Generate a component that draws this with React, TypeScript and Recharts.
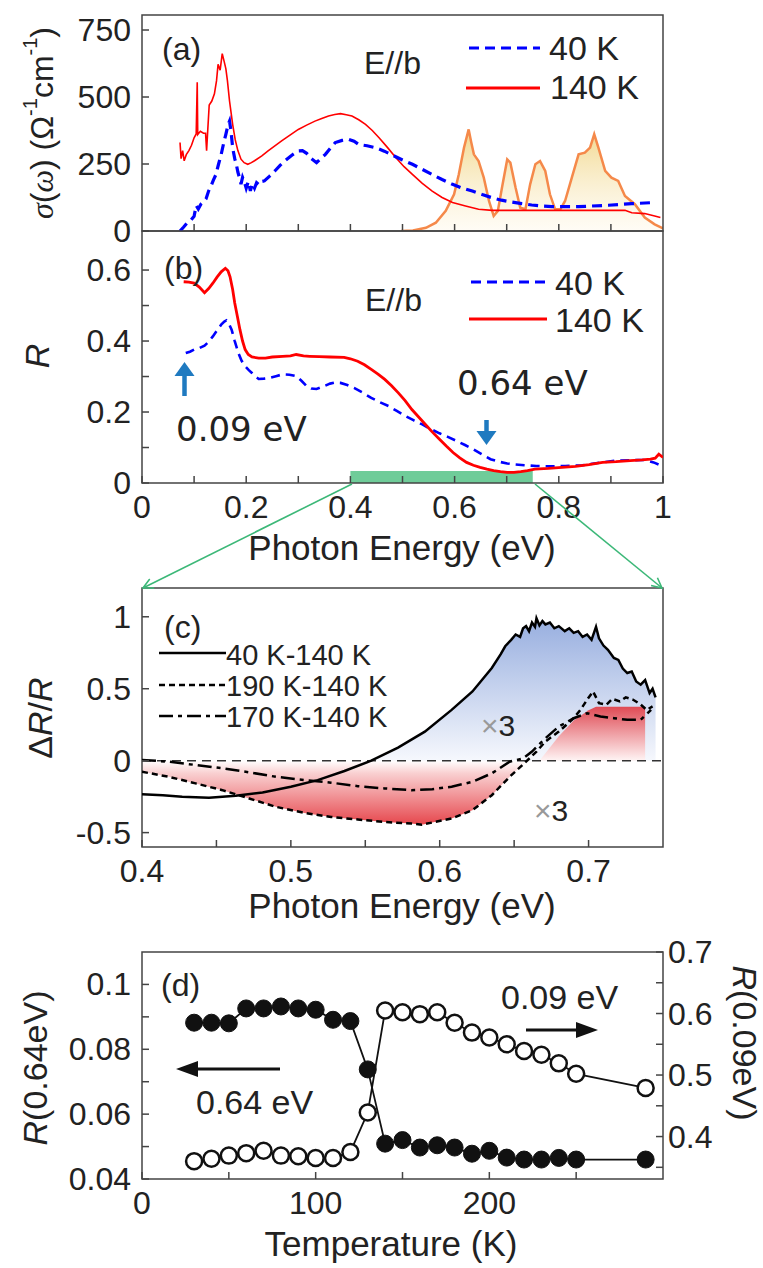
import React from "react";
import { ComposedChart, Line, Area, XAxis, YAxis, ReferenceArea, ReferenceLine } from "recharts";

type Pt = [number, number];

const FONT = '"Liberation Sans", Arial, sans-serif';
const INK = "#222";
const FRAME = "#444";

// (a) optical conductivity, E//b
const sigma140K: Pt[] = [
  [0.073, 330], [0.075, 270], [0.078, 300], [0.081, 262], [0.085, 285], [0.09, 300], [0.095, 320],
  [0.1, 348], [0.104, 362], [0.106, 555], [0.107, 360], [0.112, 372], [0.118, 365], [0.122, 365],
  [0.124, 300], [0.126, 370], [0.129, 470], [0.134, 485], [0.139, 512], [0.143, 560], [0.146, 622],
  [0.15, 600], [0.154, 662], [0.158, 630], [0.161, 605], [0.164, 560], [0.168, 485], [0.174, 398],
  [0.179, 340], [0.184, 300], [0.19, 268], [0.196, 255], [0.203, 249], [0.21, 255], [0.216, 262],
  [0.23, 280], [0.242, 299], [0.255, 318], [0.268, 336], [0.284, 358], [0.3, 379], [0.316, 395],
  [0.332, 410], [0.345, 420], [0.358, 429], [0.37, 435], [0.381, 438], [0.392, 434], [0.403, 429],
  [0.416, 415], [0.429, 398], [0.442, 375], [0.455, 348], [0.471, 312], [0.487, 274], [0.503, 240],
  [0.519, 211], [0.538, 178], [0.557, 149], [0.576, 125], [0.596, 106], [0.621, 93], [0.646, 81],
  [0.672, 77], [0.75, 77], [0.85, 77], [0.927, 77], [0.94, 68], [0.965, 65], [0.984, 56], [0.995, 50],
];
const sigma40K: Pt[] = [
  [0.073, 0], [0.08, 15], [0.087, 31], [0.093, 38], [0.1, 55], [0.104, 95], [0.108, 82], [0.113, 100],
  [0.118, 108], [0.123, 120], [0.128, 150], [0.132, 165], [0.137, 190], [0.142, 211], [0.147, 250],
  [0.152, 286], [0.157, 330], [0.161, 361], [0.165, 395], [0.168, 410], [0.171, 370], [0.174, 311],
  [0.178, 270], [0.181, 249], [0.184, 220], [0.187, 199], [0.19, 175], [0.193, 200], [0.197, 180],
  [0.2, 160], [0.204, 185], [0.208, 150], [0.212, 178], [0.216, 160], [0.22, 180], [0.225, 172],
  [0.23, 185], [0.235, 187], [0.245, 205], [0.255, 224], [0.265, 245], [0.274, 261], [0.287, 282],
  [0.3, 299], [0.308, 300], [0.316, 290], [0.325, 270], [0.335, 255], [0.343, 270], [0.352, 286],
  [0.362, 310], [0.371, 330], [0.384, 338], [0.397, 342], [0.407, 335], [0.416, 323], [0.432, 318],
  [0.448, 311], [0.465, 298], [0.481, 283], [0.5, 265], [0.519, 249], [0.538, 230], [0.557, 211],
  [0.576, 192], [0.596, 174], [0.615, 160], [0.634, 149], [0.653, 136], [0.672, 124], [0.69, 115],
  [0.71, 108], [0.729, 102], [0.748, 97], [0.767, 93], [0.787, 91], [0.838, 91], [0.895, 96],
  [0.94, 102], [0.981, 106],
];
const pumpSpectrum: Pt[] = [
  [0.497, 0], [0.52, 2], [0.545, 12], [0.564, 31], [0.583, 75], [0.599, 137], [0.608, 211],
  [0.618, 311], [0.627, 379], [0.632, 330], [0.637, 286], [0.646, 261], [0.656, 199], [0.666, 112],
  [0.675, 56], [0.683, 75], [0.691, 162], [0.701, 267], [0.707, 255], [0.717, 162], [0.726, 87],
  [0.736, 81], [0.745, 174], [0.755, 249], [0.764, 261], [0.774, 224], [0.783, 137], [0.793, 81],
  [0.803, 81], [0.812, 112], [0.825, 199], [0.838, 286], [0.85, 292], [0.86, 311], [0.868, 361],
  [0.876, 311], [0.889, 224], [0.901, 199], [0.914, 187], [0.927, 131], [0.946, 100], [0.965, 50],
  [0.984, 25], [1.0, 10],
];
const aTicksX = [0.1, 0.2, 0.3, 0.4, 0.5, 0.6, 0.7, 0.8, 0.9];
const aTicksY = [0, 250, 500, 750];
const aLabelsY = ["0", "250", "500", "750"];

// (b) reflectivity
const refl140K: Pt[] = [
  [0.08, 0.567], [0.09, 0.566], [0.1, 0.563], [0.11, 0.552], [0.12, 0.536], [0.128, 0.548],
  [0.136, 0.563], [0.144, 0.58], [0.152, 0.595], [0.16, 0.605], [0.165, 0.598], [0.169, 0.581],
  [0.174, 0.545], [0.178, 0.507], [0.183, 0.47], [0.188, 0.432], [0.193, 0.4], [0.198, 0.376],
  [0.204, 0.362], [0.211, 0.355], [0.224, 0.352], [0.237, 0.352], [0.25, 0.355], [0.27, 0.357],
  [0.285, 0.358], [0.296, 0.362], [0.31, 0.358], [0.322, 0.357], [0.34, 0.356], [0.361, 0.355],
  [0.388, 0.354], [0.4, 0.35], [0.414, 0.343], [0.427, 0.333], [0.44, 0.32], [0.453, 0.307],
  [0.466, 0.292], [0.479, 0.274], [0.492, 0.254], [0.505, 0.232], [0.518, 0.207], [0.531, 0.186],
  [0.544, 0.165], [0.557, 0.144], [0.571, 0.123], [0.584, 0.104], [0.597, 0.086], [0.61, 0.071],
  [0.623, 0.058], [0.636, 0.05], [0.649, 0.044], [0.662, 0.039], [0.675, 0.035], [0.688, 0.032],
  [0.701, 0.03], [0.714, 0.03], [0.727, 0.032], [0.74, 0.035], [0.754, 0.039], [0.78, 0.041],
  [0.806, 0.044], [0.832, 0.047], [0.858, 0.052], [0.884, 0.058], [0.91, 0.06], [0.937, 0.063],
  [0.96, 0.065], [0.976, 0.067], [0.985, 0.07], [0.992, 0.081], [1.0, 0.072],
];
const refl40K: Pt[] = [
  [0.084, 0.366], [0.092, 0.37], [0.1, 0.376], [0.11, 0.38], [0.12, 0.387], [0.128, 0.398],
  [0.136, 0.413], [0.144, 0.43], [0.152, 0.446], [0.158, 0.455], [0.162, 0.458], [0.167, 0.448],
  [0.172, 0.432], [0.178, 0.4], [0.185, 0.366], [0.191, 0.345], [0.198, 0.329], [0.205, 0.318],
  [0.211, 0.31], [0.218, 0.3], [0.224, 0.293], [0.234, 0.294], [0.244, 0.296], [0.257, 0.301],
  [0.27, 0.306], [0.283, 0.305], [0.296, 0.301], [0.306, 0.288], [0.316, 0.273], [0.325, 0.266],
  [0.335, 0.265], [0.348, 0.272], [0.361, 0.28], [0.371, 0.283], [0.381, 0.282], [0.394, 0.276],
  [0.407, 0.268], [0.423, 0.255], [0.44, 0.24], [0.456, 0.228], [0.473, 0.217], [0.489, 0.203],
  [0.505, 0.189], [0.521, 0.177], [0.538, 0.165], [0.554, 0.152], [0.571, 0.14], [0.587, 0.13],
  [0.603, 0.119], [0.62, 0.107], [0.636, 0.095], [0.652, 0.081], [0.669, 0.067], [0.685, 0.06],
  [0.701, 0.055], [0.717, 0.052], [0.734, 0.05], [0.757, 0.048], [0.78, 0.047], [0.812, 0.048],
  [0.845, 0.05], [0.878, 0.057], [0.91, 0.063], [0.937, 0.064], [0.963, 0.065], [0.982, 0.058],
  [1.0, 0.047],
];
const bTicksX = [0, 0.1, 0.2, 0.3, 0.4, 0.5, 0.6, 0.7, 0.8, 0.9, 1];
const bLabelsX = ["0", "", "0.2", "", "0.4", "", "0.6", "", "0.8", "", "1"];
const bTicksY = [0, 0.1, 0.2, 0.3, 0.4, 0.5, 0.6];
const bLabelsY = ["0", "", "0.2", "", "0.4", "", "0.6"];
const probeWindow = [0.4, 0.75];

// (c) differential reflectivity
const dR40: Pt[] = [
  [0.4, -0.233], [0.414, -0.24], [0.427, -0.251], [0.445, -0.258], [0.463, -0.244], [0.481, -0.221],
  [0.5, -0.181], [0.518, -0.135], [0.536, -0.072], [0.554, 0], [0.572, 0.091], [0.59, 0.202],
  [0.608, 0.353], [0.622, 0.481], [0.635, 0.644], [0.641, 0.74], [0.644, 0.795], [0.648, 0.84],
  [0.651, 0.877], [0.654, 0.86], [0.656, 0.92], [0.658, 0.935], [0.66, 0.9], [0.662, 0.96],
  [0.664, 0.93], [0.665, 0.99], [0.667, 0.94], [0.669, 0.97], [0.671, 0.947], [0.674, 0.96],
  [0.677, 0.92], [0.68, 0.935], [0.684, 0.9], [0.687, 0.92], [0.69, 0.888], [0.693, 0.9],
  [0.696, 0.86], [0.699, 0.877], [0.702, 0.84], [0.705, 0.93], [0.707, 0.85], [0.71, 0.8],
  [0.713, 0.77], [0.717, 0.714], [0.72, 0.7], [0.723, 0.64], [0.726, 0.609], [0.729, 0.62],
  [0.732, 0.55], [0.735, 0.528], [0.738, 0.56], [0.741, 0.47], [0.743, 0.5], [0.745, 0.44],
];
const dR190: Pt[] = [
  [0.4, -0.077], [0.418, -0.112], [0.436, -0.158], [0.454, -0.205], [0.472, -0.263], [0.49, -0.321],
  [0.509, -0.363], [0.527, -0.391], [0.545, -0.409], [0.563, -0.426], [0.581, -0.437], [0.588, -0.445],
  [0.595, -0.43], [0.608, -0.402], [0.622, -0.344], [0.635, -0.24], [0.647, -0.112], [0.658, -0.007],
  [0.665, 0.063], [0.671, 0.133], [0.68, 0.202], [0.69, 0.295], [0.695, 0.36], [0.699, 0.423],
  [0.703, 0.481], [0.707, 0.4], [0.712, 0.388], [0.716, 0.43], [0.721, 0.412], [0.725, 0.44],
  [0.73, 0.423], [0.735, 0.39], [0.739, 0.353], [0.743, 0.377],
];
const dR170: Pt[] = [
  [0.4, 0.005], [0.418, -0.007], [0.436, -0.03], [0.454, -0.053], [0.472, -0.081], [0.49, -0.112],
  [0.509, -0.135], [0.527, -0.153], [0.545, -0.177], [0.563, -0.193], [0.581, -0.205], [0.595, -0.198],
  [0.608, -0.181], [0.622, -0.147], [0.635, -0.088], [0.647, -0.007], [0.656, 0.016], [0.662, 0.063],
  [0.671, 0.156], [0.68, 0.237], [0.69, 0.295], [0.699, 0.33], [0.708, 0.307], [0.717, 0.295],
  [0.726, 0.284], [0.735, 0.284], [0.742, 0.353],
];
const dRposShade: Pt[] = [
  [0.667, 0], [0.68, 0.17], [0.69, 0.28], [0.7, 0.35], [0.705, 0.375], [0.72, 0.375], [0.738, 0.375],
];
const cTicksX = [0.4, 0.45, 0.5, 0.55, 0.6, 0.65, 0.7];
const cLabelsX = ["0.4", "", "0.5", "", "0.6", "", "0.7"];
const cTicksY = [-0.5, 0, 0.5, 1];
const cLabelsY = ["-0.5", "0", "0.5", "1"];

// (d) temperature dependence
const temps = [30, 40, 50, 60, 70, 80, 90, 100, 110, 120, 130, 140, 150, 160, 170, 180, 190, 200, 210, 220, 230, 240, 250, 290];
const r064 = [0.0882, 0.0882, 0.088, 0.0926, 0.0926, 0.0932, 0.0926, 0.0922, 0.0891, 0.0887, 0.0738, 0.0509,
  0.052, 0.0497, 0.0504, 0.0497, 0.0478, 0.0487, 0.0466, 0.046, 0.046, 0.0465, 0.046, 0.046];
const r009 = [0.36, 0.364, 0.369, 0.373, 0.377, 0.369, 0.368, 0.365, 0.365, 0.375, 0.439, 0.605,
  0.602, 0.599, 0.602, 0.585, 0.569, 0.561, 0.55, 0.539, 0.533, 0.519, 0.502, 0.479];
const dTicksX = [0, 50, 100, 150, 200, 250];
const dLabelsX = ["0", "", "100", "", "200", ""];
const dTicksL = [0.04, 0.05, 0.06, 0.07, 0.08, 0.09, 0.1];
const dLabelsL = ["0.04", "", "0.06", "", "0.08", "", "0.1"];
const dTicksR = [0.35, 0.4, 0.45, 0.5, 0.55, 0.6, 0.65, 0.7];
const dLabelsR = ["", "0.4", "", "0.5", "", "0.6", "", "0.7"];

function merge(series: Record<string, Pt[]>) {
  const rows = new Map<number, any>();
  Object.entries(series).forEach(([key, pts]) => {
    pts.forEach(([x, y]) => {
      const row = rows.get(x) || { x };
      row[key] = y;
      rows.set(x, row);
    });
  });
  return Array.from(rows.values()).sort((p, q) => p.x - q.x);
}

const aRows = merge({ s40: sigma40K, s140: sigma140K, pump: pumpSpectrum });
const bRows = merge({ r40: refl40K, r140: refl140K });
const cRows = merge({
  d40: dR40,
  d190: dR190,
  d170: dR170,
  pos40: dR40.filter(([, y]) => y >= 0),
  neg190: dR190.filter(([x, y]) => y <= 0 && x < 0.66),
  posShade: dRposShade,
});
const dRows = temps.map((t, i) => ({ t, r064: r064[i], r009: r009[i] }));

const tickText = { fontFamily: FONT, fontSize: 32, fill: INK };

const bottomTick = (ticks: number[], labels: string[]) => (p: any) => {
  const lab = labels[ticks.indexOf(p.payload.value)] || "";
  return (
    <g>
      <line x1={p.x} y1={p.y} x2={p.x} y2={p.y - 7} stroke={FRAME} strokeWidth={1.5} />
      {lab && <text x={p.x} y={p.y + 35} textAnchor="middle" {...tickText}>{lab}</text>}
    </g>
  );
};
const leftTick = (ticks: number[], labels: string[]) => (p: any) => {
  const lab = labels[ticks.indexOf(p.payload.value)] || "";
  return (
    <g>
      <line x1={p.x} y1={p.y} x2={p.x + 7} y2={p.y} stroke={FRAME} strokeWidth={1.5} />
      {lab && <text x={p.x - 11} y={p.y + 11} textAnchor="end" {...tickText}>{lab}</text>}
    </g>
  );
};
const rightTick = (ticks: number[], labels: string[]) => (p: any) => {
  const lab = labels[ticks.indexOf(p.payload.value)] || "";
  return (
    <g>
      <line x1={p.x} y1={p.y} x2={p.x - 7} y2={p.y} stroke={FRAME} strokeWidth={1.5} />
      {lab && <text x={p.x + 5} y={p.y + 11} textAnchor="start" {...tickText}>{lab}</text>}
    </g>
  );
};

// axes are 1px thick boxes so that recharts still draws their ticks
const axisBase = { tickSize: 0, tickMargin: 0, axisLine: false, tickLine: false, interval: 0 as const, allowDataOverflow: true };

const Panel = ({ top, height, children }: { top: number; height: number; children: React.ReactNode }) => (
  <div style={{ position: "absolute", left: 0, top, width: 763, height }}>{children}</div>
);

function ChartA() {
  return (
    <ComposedChart width={763} height={260} data={aRows} margin={{ top: 15, right: 100, bottom: 28, left: 141 }}>
      <defs>
        <linearGradient id="pumpFill" x1="0" y1="0" x2="0" y2="1">
          <stop offset="0" stopColor="#e6b52c" stopOpacity={0.9} />
          <stop offset="0.55" stopColor="#f3d98e" stopOpacity={0.65} />
          <stop offset="1" stopColor="#fff6e0" stopOpacity={0.5} />
        </linearGradient>
      </defs>
      <XAxis dataKey="x" type="number" domain={[0, 1]} ticks={aTicksX} height={1} tick={bottomTick(aTicksX, [])} {...axisBase} />
      <YAxis type="number" domain={[0, 806]} ticks={aTicksY} width={1} tick={leftTick(aTicksY, aLabelsY)} {...axisBase} />
      <Area dataKey="pump" type="linear" connectNulls stroke="#f5894a" strokeWidth={2.5} fill="url(#pumpFill)" baseValue={0} isAnimationActive={false} dot={false} />
      <Line dataKey="s140" type="linear" connectNulls stroke="#ff0000" strokeWidth={1.6} dot={false} isAnimationActive={false} />
      <Line dataKey="s40" type="linear" connectNulls stroke="#0000ff" strokeWidth={3.2} strokeDasharray="10 6" dot={false} isAnimationActive={false} />
      <ReferenceArea x1={0} x2={1} y1={0} y2={806} fill="none" stroke={FRAME} strokeWidth={1.5} ifOverflow="visible" />
    </ComposedChart>
  );
}

function ChartB() {
  return (
    <ComposedChart width={763} height={360} data={bRows} margin={{ top: 15, right: 100, bottom: 92, left: 141 }}>
      <XAxis dataKey="x" type="number" domain={[0, 1]} ticks={bTicksX} height={1} tick={bottomTick(bTicksX, bLabelsX)} {...axisBase} />
      <YAxis type="number" domain={[0, 0.71]} ticks={bTicksY} width={1} tick={leftTick(bTicksY, bLabelsY)} {...axisBase} />
      <ReferenceArea x1={probeWindow[0]} x2={probeWindow[1]} y1={0} y2={0.034} fill="#5fc68e" fillOpacity={0.9} stroke="none" ifOverflow="visible" />
      <Line dataKey="r40" type="linear" connectNulls stroke="#0000ff" strokeWidth={2.6} strokeDasharray="9 6" dot={false} isAnimationActive={false} />
      <Line dataKey="r140" type="linear" connectNulls stroke="#ff0000" strokeWidth={2.8} dot={false} isAnimationActive={false} />
      <ReferenceArea x1={0} x2={1} y1={0} y2={0.71} fill="none" stroke={FRAME} strokeWidth={1.5} ifOverflow="visible" />
    </ComposedChart>
  );
}

function ChartC() {
  return (
    <ComposedChart width={763} height={357} data={cRows} margin={{ top: 15, right: 100, bottom: 82, left: 141 }}>
      <defs>
        <linearGradient id="blueFill" x1="0" y1="0" x2="0" y2="1">
          <stop offset="0" stopColor="#97aedf" />
          <stop offset="1" stopColor="#f6f8fd" />
        </linearGradient>
        <linearGradient id="negFill" x1="0" y1="0" x2="0" y2="1">
          <stop offset="0" stopColor="#ffffff" />
          <stop offset="0.2" stopColor="#f9cfd0" />
          <stop offset="1" stopColor="#e6474d" />
        </linearGradient>
        <linearGradient id="posFill" x1="0" y1="0" x2="0" y2="1">
          <stop offset="0" stopColor="#df4a54" />
          <stop offset="1" stopColor="#fff4f4" />
        </linearGradient>
      </defs>
      <XAxis dataKey="x" type="number" domain={[0.4, 0.75]} ticks={cTicksX} height={1} tick={bottomTick(cTicksX, cLabelsX)} {...axisBase} />
      <YAxis type="number" domain={[-0.6, 1.2]} ticks={cTicksY} width={1} tick={leftTick(cTicksY, cLabelsY)} {...axisBase} />
      <Area dataKey="pos40" type="linear" connectNulls stroke="none" fill="url(#blueFill)" fillOpacity={1} baseValue={0} dot={false} isAnimationActive={false} />
      <Area dataKey="neg190" type="linear" connectNulls stroke="none" fill="url(#negFill)" fillOpacity={1} baseValue={0} dot={false} isAnimationActive={false} />
      <Area dataKey="posShade" type="linear" connectNulls stroke="none" fill="url(#posFill)" fillOpacity={1} baseValue={0} dot={false} isAnimationActive={false} />
      <ReferenceLine y={0} stroke="#333" strokeWidth={1.5} strokeDasharray="9 6" />
      <Line dataKey="d40" type="linear" connectNulls stroke="#000" strokeWidth={2.5} dot={false} isAnimationActive={false} />
      <Line dataKey="d190" type="linear" connectNulls stroke="#000" strokeWidth={2.5} strokeDasharray="6 4" dot={false} isAnimationActive={false} />
      <Line dataKey="d170" type="linear" connectNulls stroke="#000" strokeWidth={2.5} strokeDasharray="14 5 4 5" dot={false} isAnimationActive={false} />
      <ReferenceArea x1={0.4} x2={0.75} y1={-0.6} y2={1.2} fill="none" stroke={FRAME} strokeWidth={1.5} ifOverflow="visible" />
    </ComposedChart>
  );
}

function ChartD() {
  return (
    <ComposedChart width={763} height={348} data={dRows} margin={{ top: 32, right: 99, bottom: 88, left: 141 }}>
      <XAxis dataKey="t" type="number" domain={[0, 300]} ticks={dTicksX} height={1} tick={bottomTick(dTicksX, dLabelsX)} {...axisBase} />
      <YAxis yAxisId="l" type="number" domain={[0.04, 0.11]} ticks={dTicksL} width={1} tick={leftTick(dTicksL, dLabelsL)} {...axisBase} />
      <YAxis yAxisId="r" orientation="right" type="number" domain={[0.331, 0.7]} ticks={dTicksR} width={1} tick={rightTick(dTicksR, dLabelsR)} {...axisBase} />
      <Line yAxisId="l" dataKey="r064" type="linear" stroke="#111" strokeWidth={1.8} dot={{ r: 8.5, fill: "#111", stroke: "#111", strokeWidth: 1 }} isAnimationActive={false} />
      <Line yAxisId="r" dataKey="r009" type="linear" stroke="#111" strokeWidth={1.8} dot={{ r: 8, fill: "#fff", stroke: "#111", strokeWidth: 2.5 }} isAnimationActive={false} />
      <ReferenceArea yAxisId="l" x1={0} x2={300} y1={0.04} y2={0.11} fill="none" stroke={FRAME} strokeWidth={1.5} ifOverflow="visible" />
    </ComposedChart>
  );
}

const T = { fontFamily: FONT, fill: INK };
const ANN = { fontFamily: '"DejaVu Sans", sans-serif', fill: INK };

function VArrow({ x, from, to, color, shaft, head, half }: any) {
  const dir = Math.sign(to - from);
  const base = to - dir * head;
  return (
    <g>
      <line x1={x} y1={from} x2={x} y2={base} stroke={color} strokeWidth={shaft} />
      <polygon points={`${x - half},${base} ${x + half},${base} ${x},${to}`} fill={color} />
    </g>
  );
}
function HArrow({ y, from, to, color, shaft, head, half }: any) {
  const dir = Math.sign(to - from);
  const base = to - dir * head;
  return (
    <g>
      <line x1={from} y1={y} x2={base} y2={y} stroke={color} strokeWidth={shaft} />
      <polygon points={`${base},${y - half} ${base},${y + half} ${to},${y}`} fill={color} />
    </g>
  );
}

function Overlay() {
  const sup = (s: string) => (
    <tspan dy={-12} fontSize={20}>{s}</tspan>
  );
  return (
    <svg width={763} height={1268} style={{ position: "absolute", left: 0, top: 0, pointerEvents: "none" }}>
      <defs>
        <marker id="gArrow" viewBox="0 0 12 12" refX="11" refY="6" markerWidth="12" markerHeight="12" orient="auto" markerUnits="userSpaceOnUse">
          <path d="M1,1 L11,6 L1,11" fill="none" stroke="#3cb878" strokeWidth={1.6} />
        </marker>
      </defs>
      {/* zoom lines from (b) to (c) */}
      <line x1={352} y1={484} x2={143} y2={588} stroke="#3cb878" strokeWidth={1.6} markerEnd="url(#gArrow)" />
      <line x1={535} y1={484} x2={662} y2={588} stroke="#3cb878" strokeWidth={1.6} markerEnd="url(#gArrow)" />

      {/* (a) */}
      <text x={162} y={49} dominantBaseline="central" fontSize={32} {...T}>(a)</text>
      <text x={364} y={63} dominantBaseline="central" fontSize={32} {...T}>E//b</text>
      <line x1={469} y1={48} x2={540} y2={48} stroke="#0000ff" strokeWidth={3.2} strokeDasharray="10 6" />
      <text x={549} y={48} dominantBaseline="central" fontSize={34} {...T}>40 K</text>
      <line x1={466} y1={88} x2={540} y2={88} stroke="#ff0000" strokeWidth={3} />
      <text x={550} y={87} dominantBaseline="central" fontSize={34} {...T}>140 K</text>
      <text transform="translate(42,123) rotate(-90)" textAnchor="middle" dominantBaseline="central" fontSize={32} {...T}>
        <tspan fontFamily='"Liberation Serif", serif' fontStyle="italic">σ</tspan>(<tspan fontFamily='"Liberation Serif", serif' fontStyle="italic">ω</tspan>) (Ω{sup("-1")}<tspan dy={12}>cm</tspan>{sup("-1")}<tspan dy={12}>)</tspan>
      </text>

      {/* (b) */}
      <text x={164} y={268} dominantBaseline="central" fontSize={32} {...T}>(b)</text>
      <text x={365} y={300} dominantBaseline="central" fontSize={32} {...T}>E//b</text>
      <line x1={471} y1={282} x2={547} y2={282} stroke="#0000ff" strokeWidth={3} strokeDasharray="10 6" />
      <text x={555} y={283} dominantBaseline="central" fontSize={34} {...T}>40 K</text>
      <line x1={469} y1={319} x2={547} y2={319} stroke="#ff0000" strokeWidth={3} />
      <text x={555} y={320} dominantBaseline="central" fontSize={34} {...T}>140 K</text>
      <VArrow x={184.5} from={396} to={362} color="#1f7ac0" shaft={4.5} head={14} half={10} />
      <VArrow x={486.5} from={420} to={445} color="#1f7ac0" shaft={4.5} head={14} half={10} />
      <text x={176} y={429} dominantBaseline="central" fontSize={34} {...ANN}>0.09 eV</text>
      <text x={457} y={383} dominantBaseline="central" fontSize={34} {...ANN}>0.64 eV</text>
      <text transform="translate(37,356) rotate(-90)" textAnchor="middle" dominantBaseline="central" fontSize={34} fontStyle="italic" {...T}>R</text>
      <text x={402} y={547} textAnchor="middle" dominantBaseline="central" fontSize={35} {...T}>Photon Energy (eV)</text>

      {/* (c) */}
      <text x={164} y={627} dominantBaseline="central" fontSize={32} {...T}>(c)</text>
      <line x1={159} y1={653} x2={226} y2={653} stroke="#000" strokeWidth={2.5} />
      <text x={226} y={655} dominantBaseline="central" fontSize={29} {...T}>40 K-140 K</text>
      <line x1={159} y1={685} x2={226} y2={685} stroke="#000" strokeWidth={2.5} strokeDasharray="6 4" />
      <text x={226} y={686} dominantBaseline="central" fontSize={29} {...T}>190 K-140 K</text>
      <line x1={159} y1={716} x2={226} y2={716} stroke="#000" strokeWidth={2.5} strokeDasharray="14 5 4 5" />
      <text x={226} y={717} dominantBaseline="central" fontSize={29} {...T}>170 K-140 K</text>
      <text x={481} y={725} dominantBaseline="central" fontSize={30} {...T}>
        <tspan fill="#999">×</tspan>3
      </text>
      <text x={534} y={810} dominantBaseline="central" fontSize={30} {...T}>
        <tspan fill="#999">×</tspan>3
      </text>
      <text transform="translate(40,718) rotate(-90)" textAnchor="middle" dominantBaseline="central" fontSize={34} {...T}>
        Δ<tspan fontStyle="italic">R</tspan>/<tspan fontStyle="italic">R</tspan>
      </text>
      <text x={402} y={905} textAnchor="middle" dominantBaseline="central" fontSize={35} {...T}>Photon Energy (eV)</text>

      {/* (d) */}
      <text x={161} y={985} dominantBaseline="central" fontSize={32} {...T}>(d)</text>
      <HArrow y={1069} from={280} to={176} color="#111" shaft={3} head={22} half={8} />
      <HArrow y={1030} from={526} to={598} color="#111" shaft={3} head={22} half={8} />
      <text x={196} y={1102} dominantBaseline="central" fontSize={34} {...T}>0.64 eV</text>
      <text x={501} y={997} dominantBaseline="central" fontSize={34} {...T}>0.09 eV</text>
      <text transform="translate(35,1068) rotate(-90)" textAnchor="middle" dominantBaseline="central" fontSize={34} {...T}>
        <tspan fontStyle="italic">R</tspan>(0.64eV)
      </text>
      <text transform="translate(745,1043) rotate(90)" textAnchor="middle" dominantBaseline="central" fontSize={34} {...T}>
        <tspan fontStyle="italic">R</tspan>(0.09eV)
      </text>
      <text x={391} y={1243} textAnchor="middle" dominantBaseline="central" fontSize={35} {...T}>Temperature (K)</text>
    </svg>
  );
}

export default function App() {
  return (
    <div style={{ position: "absolute", left: 0, top: 0, width: 763, height: 1268, background: "#fff", overflow: "hidden" }}>
      <Panel top={0} height={260}><ChartA /></Panel>
      <Panel top={216} height={360}><ChartB /></Panel>
      <Panel top={573} height={357}><ChartC /></Panel>
      <Panel top={920} height={348}><ChartD /></Panel>
      <Overlay />
    </div>
  );
}
